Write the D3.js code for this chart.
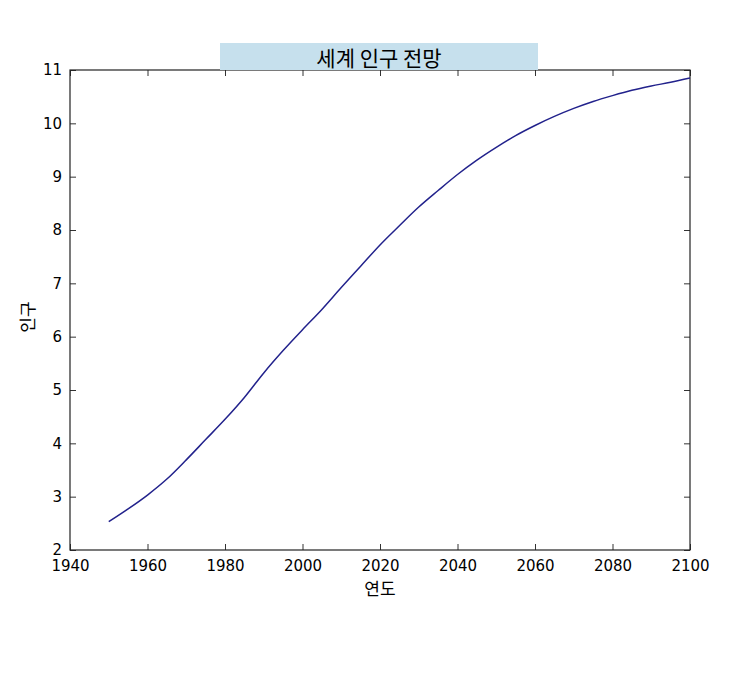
<!DOCTYPE html>
<html>
<head>
<meta charset="utf-8">
<script src="https://cdn.jsdelivr.net/npm/d3@7"></script>
<style>
  body { margin: 0; background: #fff; }
  text { font-family: "DejaVu Sans", "Noto Sans CJK KR", sans-serif; fill: #000; }
</style>
</head>
<body>
<script>
// 세계 인구 전망 (단위: 십억 명)
const years = [1950, 1955, 1960, 1965, 1970, 1975, 1980, 1985, 1990, 1995,
               2000, 2005, 2010, 2015, 2020, 2025, 2030, 2035, 2040, 2045,
               2050, 2055, 2060, 2065, 2070, 2075, 2080, 2085, 2090, 2095, 2100];
const population = [2.53, 2.77, 3.03, 3.33, 3.69, 4.07, 4.45, 4.86, 5.32, 5.74,
                    6.13, 6.51, 6.92, 7.32, 7.72, 8.08, 8.43, 8.74, 9.04, 9.31,
                    9.55, 9.77, 9.96, 10.13, 10.28, 10.41, 10.52, 10.62, 10.70, 10.77, 10.85];
const xTicks = [1940, 1960, 1980, 2000, 2020, 2040, 2060, 2080, 2100];
const yTicks = [2, 3, 4, 5, 6, 7, 8, 9, 10, 11];

const WIDTH = 750, HEIGHT = 680;
const margin = {top: 70, right: 60, bottom: 130, left: 70};
const w = WIDTH - margin.left - margin.right;
const h = HEIGHT - margin.top - margin.bottom;
const kr = '"Noto Sans CJK KR", sans-serif';

let svg = d3.select('body').append('svg')
    .attr('width', WIDTH)
    .attr('height', HEIGHT);

let g = svg.append('g').attr('transform', `translate(${margin.left},${margin.top})`);

let x = d3.scaleLinear().domain([1940, 2100]).range([0, w]);
let y = d3.scaleLinear().domain([2, 11]).range([h, 0]);

// 축 (눈금은 안쪽으로)
function styleAxis(sel, showLabels) {
    sel.select('.domain').remove();
    sel.selectAll('.tick line').attr('stroke', '#333').attr('stroke-width', 1);
    sel.selectAll('.tick text').style('font-size', '15px').style('font-family', '"DejaVu Sans", sans-serif');
    if (!showLabels) sel.selectAll('.tick text').remove();
}

g.append('g').attr('transform', `translate(0,${h})`)
    .call(d3.axisBottom(x).tickValues(xTicks).tickFormat(d3.format('d')).tickSizeInner(-6).tickPadding(10))
    .call(s => styleAxis(s, true));
g.append('g')
    .call(d3.axisTop(x).tickValues(xTicks).tickSizeInner(-6))
    .call(s => styleAxis(s, false));
g.append('g')
    .call(d3.axisLeft(y).tickValues(yTicks).tickSizeInner(-6).tickPadding(8))
    .call(s => styleAxis(s, true));
g.append('g').attr('transform', `translate(${w},0)`)
    .call(d3.axisRight(y).tickValues(yTicks).tickSizeInner(-6))
    .call(s => styleAxis(s, false));

// 테두리
g.append('rect')
    .attr('width', w).attr('height', h)
    .attr('fill', 'none').attr('stroke', '#222').attr('stroke-width', 1.2);

// 선
let line = d3.line().x((d, i) => x(years[i])).y(d => y(d)).curve(d3.curveMonotoneX);
g.append('path')
    .datum(population)
    .attr('d', line)
    .attr('fill', 'none')
    .attr('stroke', '#22228c')
    .attr('stroke-width', 1.5);

// 제목 상자
g.append('rect')
    .attr('x', 150).attr('y', -27)
    .attr('width', 318).attr('height', 27)
    .attr('fill', '#c6e0ed');
g.append('text')
    .attr('x', 309).attr('y', -13)
    .attr('text-anchor', 'middle')
    .attr('dominant-baseline', 'central')
    .style('font-family', kr)
    .style('font-size', '21px')
    .text('세계 인구 전망');

// 축 제목
g.append('text')
    .attr('x', w / 2).attr('y', h + 45)
    .attr('text-anchor', 'middle')
    .style('font-family', kr)
    .style('font-size', '17px')
    .text('연도');
g.append('text')
    .attr('transform', `translate(-36,${h / 2 + 7}) rotate(-90)`)
    .attr('text-anchor', 'middle')
    .style('font-family', kr)
    .style('font-size', '17px')
    .text('인구');
</script>
</body>
</html>
